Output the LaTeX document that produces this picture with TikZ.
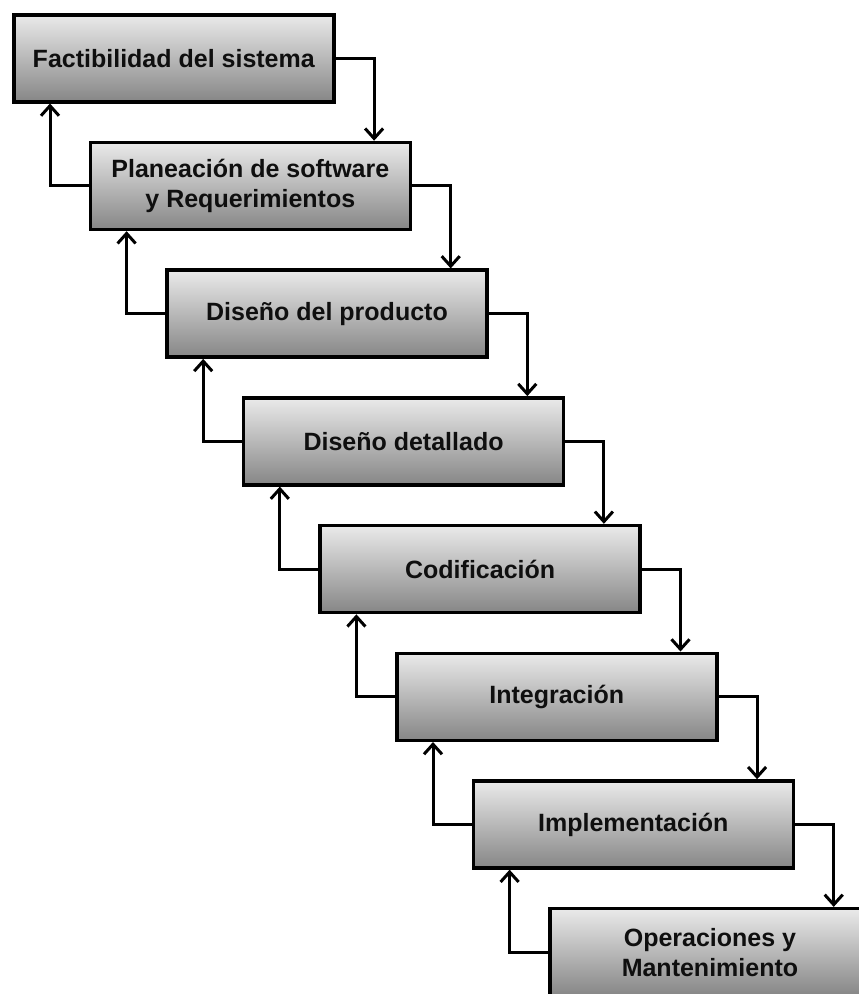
\documentclass[tikz,border=0pt]{standalone}
\usepackage{fontspec}
\setmainfont{Liberation Sans}
\usetikzlibrary{arrows.meta,calc}
\definecolor{boxtop}{RGB}{234,234,234}
\definecolor{boxbot}{RGB}{134,134,134}
\definecolor{ink}{RGB}{15,15,15}
\tikzset{
  phase/.style={draw=black, line width=3.5pt, rectangle, anchor=north west,
    minimum width=320pt, minimum height=87pt, inner sep=0pt,
    top color=boxtop, bottom color=boxbot, align=center, text=ink,
    font=\bfseries\fontsize{25}{30}\selectfont},
  flow/.style={draw=black, line width=3pt,
    -{Straight Barb[length=10pt,width=18pt,line width=3pt]}}
}
\begin{document}
\begin{tikzpicture}[x=1pt,y=-1pt]
\path[use as bounding box, clip] (0,0) rectangle (859,994);
\node[phase] (b1) at (12,13)    {Factibilidad del sistema};
\node[phase] (b2) at (88.6,140.7)  {Planeación de software\\y Requerimientos};
\node[phase] (b3) at (165.2,268.4) {Diseño del producto};
\node[phase] (b4) at (241.8,396.1) {Diseño detallado};
\node[phase] (b5) at (318.4,523.8) {Codificación};
\node[phase] (b6) at (395,651.5)   {Integración};
\node[phase] (b7) at (471.6,779.2) {Implementación};
\node[phase] (b8) at (548.2,906.9) {Operaciones y\\Mantenimiento};
\foreach \a/\b in {b1/b2,b2/b3,b3/b4,b4/b5,b5/b6,b6/b7,b7/b8}{
  \draw[flow] (\a.east) -| ($(\b.north east)+(-38,0)$);
  \draw[flow] (\b.west) -| ($(\a.south west)+(38,0)$);
}
\end{tikzpicture}
\end{document}
